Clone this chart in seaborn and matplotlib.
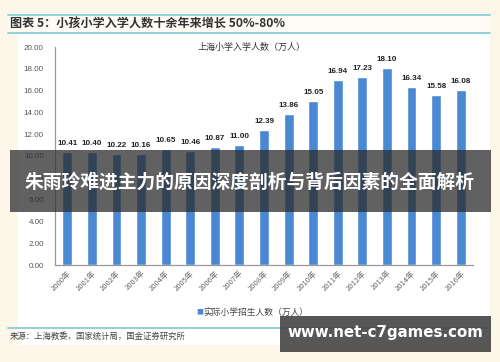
import numpy as np
import pandas as pd
import seaborn as sns
import matplotlib
matplotlib.use("Agg")
import matplotlib.pyplot as plt
from matplotlib.patches import Rectangle
from matplotlib.lines import Line2D

years = ["2000年", "2001年", "2002年", "2003年", "2004年", "2005年", "2006年", "2007年", "2008年",
         "2009年", "2010年", "2011年", "2012年", "2013年", "2014年", "2015年", "2016年"]
values = [10.41, 10.40, 10.22, 10.16, 10.65, 10.46, 10.87, 11.00, 12.39,
          13.86, 15.05, 16.94, 17.23, 18.10, 16.34, 15.58, 16.08]
yticks = [0, 2, 4, 6, 8, 10, 12, 14, 16, 18, 20]

fig_title = "图表 5：小孩小学入学人数十余年来增长 50%-80%"
chart_title = "上海小学入学人数（万人）"
legend_label = "实际小学招生人数（万人）"
source = "来源：上海教委，国家统计局，国金证券研究所"
banner = "朱雨玲难进主力的原因深度剖析与背后因素的全面解析"
watermark = "www.net-c7games.com"

sns.set_theme(style="white")
plt.rcParams['font.family'] = ['Liberation Sans', 'Noto Sans CJK SC', 'DejaVu Sans']
cjk = ['Noto Sans CJK SC', 'DejaVu Sans']

W, H = 500, 362
fig = plt.figure(figsize=(5, 3.62), dpi=100, facecolor='#fcf7e9')


def fx(px):
    return px / W


def fy(py):
    return 1 - py / H


# white panel and cyan rules (behind the axes)
fig.patches.append(Rectangle((fx(18), fy(345)), fx(472), 311 / H, transform=fig.transFigure,
                             facecolor='white', edgecolor='none', zorder=-2))
fig.patches.append(Rectangle((fx(8), fy(33)), fx(482), 18 / H, transform=fig.transFigure,
                             facecolor='#fdfbf4', edgecolor='none', zorder=-2))
for py in [15, 33, 328]:
    fig.lines.append(Line2D([fx(8), fx(490)], [fy(py), fy(py)], transform=fig.transFigure,
                            color='#86cfd8', lw=1.3, zorder=-1))

fig.text(fx(10), fy(24), fig_title, family=cjk, fontsize=8.7, fontweight='bold',
         color='#333333', ha='left', va='center', style='italic')

ax = fig.add_axes([fx(55), fy(265), fx(418), 218 / H])
df = pd.DataFrame({"year": years, "value": values})
sns.barplot(data=df, x="year", y="value", color='#4a88d4', saturation=1, width=0.4, ax=ax)
ax.set_xlim(-0.5, len(years) - 0.5)
ax.set_ylim(0, 20)
ax.set_yticks(yticks)
ax.set_yticklabels([f"{v:.2f}" for v in yticks], fontsize=5.8, color='#555555')
ax.set_xticks(range(len(years)))
ax.set_xticklabels(years, rotation=45, ha='right', rotation_mode='anchor', fontsize=5.5,
                   color='#666666', family=cjk)
ax.tick_params(axis='y', length=0, pad=8)
ax.tick_params(axis='x', length=0, pad=3)
ax.set_xlabel("")
ax.set_ylabel("")
for s in ['top', 'right']:
    ax.spines[s].set_visible(False)
for s in ['left', 'bottom']:
    ax.spines[s].set_color('#999999')
    ax.spines[s].set_linewidth(0.9)
ax.patch.set_alpha(0)
for i, v in enumerate(values):
    ax.text(i, v + 0.45, f"{v:.2f}", ha='center', va='bottom', fontsize=5.8,
            fontweight='bold', color='#222222')

fig.text(fx(251), fy(47), chart_title, family=cjk, fontsize=6.5, color='#333333',
         ha='center', va='center')
fig.text(fx(196), fy(312), "■", family=cjk, fontsize=5, color='#4a88d4', ha='left', va='center')
fig.text(fx(203), fy(312), legend_label, family=cjk, fontsize=6.3, color='#444444',
         ha='left', va='center')
fig.text(fx(10), fy(336), source, family=cjk, fontsize=6, color='#444444',
         ha='left', va='center')

# banner overlay
fig.patches.append(Rectangle((fx(10), fy(212)), fx(481), 62 / H, transform=fig.transFigure,
                             facecolor='#2c2c2c', alpha=0.75, edgecolor='none', zorder=5))
fig.text(fx(250), fy(182), banner, family=cjk, fontsize=13.5, fontweight='bold',
         color='white', ha='center', va='center', zorder=6)

# watermark box
fig.patches.append(Rectangle((fx(280), fy(352)), fx(211), 36 / H, transform=fig.transFigure,
                             facecolor='#3a3a3a', alpha=0.85, edgecolor='none', zorder=5))
fig.text(fx(385), fy(333), watermark, family=['DejaVu Sans'], fontsize=10.8, fontweight='bold',
         color='white', ha='center', va='center', zorder=6)

fig.savefig("out.png", dpi=100, facecolor=fig.get_facecolor())
